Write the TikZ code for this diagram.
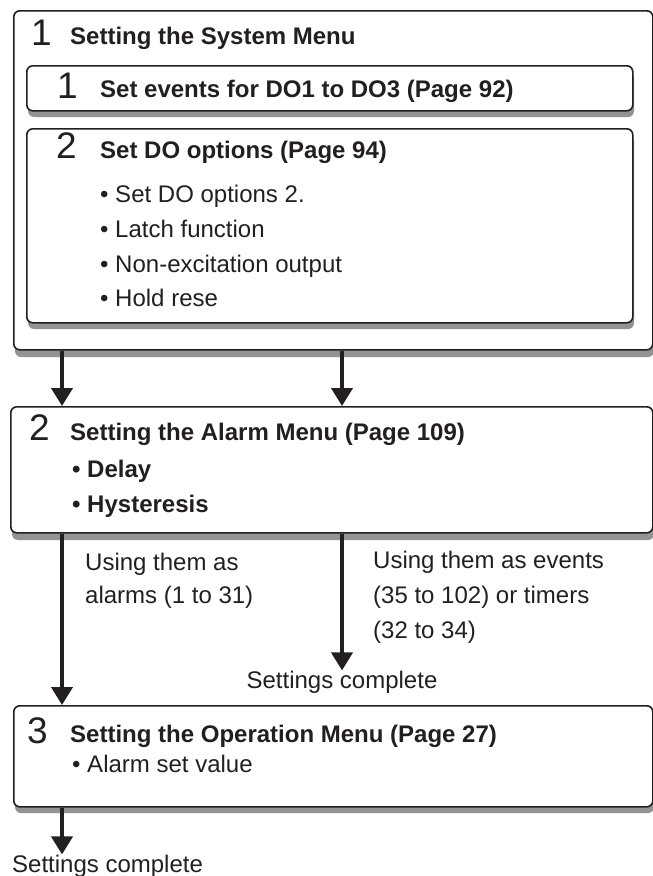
\documentclass[tikz,border=0pt]{standalone}
\usepackage{fontspec}
\setmainfont{Liberation Sans}
\usepackage{xcolor}
\usetikzlibrary{arrows.meta, positioning}
\definecolor{ink}{HTML}{231F20}
\definecolor{shadowgray}{HTML}{939395}

\begin{document}
\begin{tikzpicture}[
  x=1pt, y=-1pt,
  box/.style  = {draw=ink, line width=1.6pt, rounded corners=6pt, fill=white,
                 anchor=north west, inner sep=0pt},
  shd/.style  = {fill=shadowgray, rounded corners=6pt},
  num/.style  = {anchor=base west, inner sep=0pt, text=ink,
                 font=\fontsize{37}{37}\selectfont},
  head/.style = {anchor=base west, inner sep=0pt, text=ink,
                 font=\fontsize{24}{28}\selectfont\bfseries},
  item/.style = {anchor=base west, inner sep=0pt, text=ink,
                 font=\fontsize{24}{28}\selectfont},
  arr/.style  = {draw=ink, line width=4pt, -{Triangle[width=21pt, length=18pt]}}
]
\useasboundingbox (0,0) rectangle (653,876);

% Boxes (shadow first, then box)
\path[shd] (15,17) rectangle (654,357);
\node[box, minimum width=639pt, minimum height=339pt] (sys) at (13,10)  {};
\path[shd] (28,72) rectangle (634,117);
\node[box, minimum width=606pt, minimum height=45pt]  (evt) at (26,65)  {};
\path[shd] (28,135) rectangle (634,329);
\node[box, minimum width=606pt, minimum height=194pt] (opt) at (26,128) {};
\path[shd] (12,413) rectangle (654,540);
\node[box, minimum width=642pt, minimum height=126pt] (alm) at (10,406) {};
\path[shd] (15,712) rectangle (654,813);
\node[box, minimum width=639pt, minimum height=101pt] (opr) at (13,705) {};

% System menu
\node[num]  (n1)  at (31,45)  {1};
\node[head] (h1)  at (70,44)  {Setting the System Menu};
\node[num]  (n11) at (57,98)  {1};
\node[head] (h11) at (100,97) {Set events for DO1 to DO3 (Page 92)};
\node[num]  (n12) at (56,158) {2};
\node[head] (h12) at (100,158) {Set DO options (Page 94)};
\node[item] (o1)  at (100,202) {\textbullet\ Set DO options 2.};
\node[item] (o2)  at (100,237) {\textbullet\ Latch function};
\node[item] (o3)  at (100,272) {\textbullet\ Non-excitation output};
\node[item] (o4)  at (100,306) {\textbullet\ Hold rese};

% Alarm menu
\node[num]  (n2)  at (29,440) {2};
\node[head] (h2)  at (70,440) {Setting the Alarm Menu (Page 109)};
\node[head] (a1)  at (72,477) {\textbullet\ Delay};
\node[head] (a2)  at (72,512) {\textbullet\ Hysteresis};

% Branch notes
\node[item] (u1) at (85,570)  {Using them as};
\node[item] (u2) at (85,603)  {alarms (1 to 31)};
\node[item] (e1) at (373,568) {Using them as events};
\node[item] (e2) at (373,603) {(35 to 102) or timers};
\node[item] (e3) at (373,638) {(32 to 34)};
\node[item, anchor=base] (done1) at (342,688) {Settings complete};

% Operation menu
\node[num]  (n3)  at (27,743) {3};
\node[head] (h3)  at (70,742) {Setting the Operation Menu (Page 27)};
\node[item] (p1)  at (72,772) {\textbullet\ Alarm set value};
\node[item] (done2) at (12,872) {Settings complete};

% Arrows
\coordinate (lx) at (62,0);
\coordinate (rx) at (342,0);
\draw[arr] (sys.south -| lx) -- (alm.north -| lx);
\draw[arr] (sys.south -| rx) -- (alm.north -| rx);
\draw[arr] (alm.south -| lx) -- (opr.north -| lx);
\draw[arr] (alm.south -| rx) -- (done1.north);
\draw[arr] (opr.south -| lx) -- (done2.north -| lx);
\end{tikzpicture}
\end{document}
